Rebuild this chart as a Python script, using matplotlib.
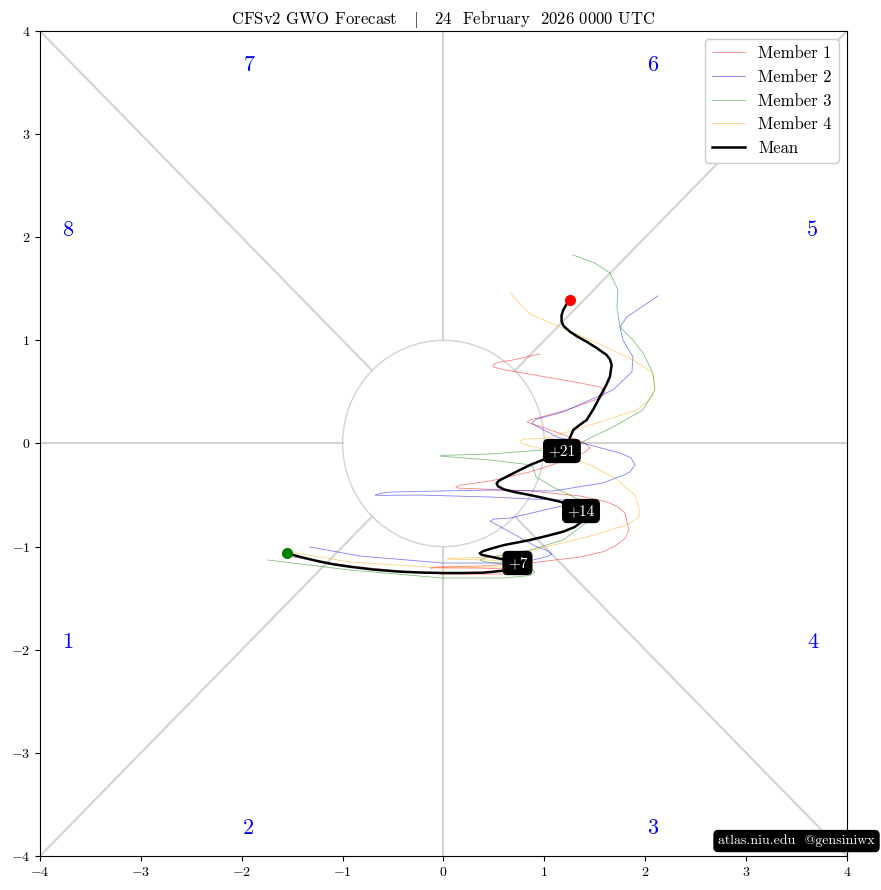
import matplotlib
matplotlib.use('Agg')
import matplotlib.pyplot as plt
import numpy as np

plt.rcParams['font.family'] = 'serif'
plt.rcParams['font.serif'] = ['cmr10']
plt.rcParams['mathtext.fontset'] = 'cm'
plt.rcParams['axes.formatter.use_mathtext'] = True

title = r'CFSv2 GWO Forecast   $|$   24  February  2026 0000 UTC'

# ensemble members (x, y)
m1_x = [-1.601, -1.25, -0.927, -0.45, -0.005, 0.610, 0.70, 0.738, 0.70, 0.362, -0.08, -0.124,
        -0.08, 0.362, 0.857, 1.353, 1.58, 1.700, 1.80, 1.838, 1.799, 1.72, 1.620, 1.353, 0.857,
        0.362, 0.15, 0.124, 0.16, 0.461, 0.857, 1.224, 1.40, 1.452, 1.40, 1.224, 1.006, 0.86,
        0.828, 0.86, 1.006, 1.224, 1.551, 1.59, 1.601, 1.56, 1.353, 0.956, 0.610, 0.50, 0.491,
        0.53, 0.689, 0.956]
m1_y = [-1.081, -1.14, -1.188, -1.235, -1.266, -1.266, -1.255, -1.237, -1.22, -1.208, -1.205, -1.208,
        -1.198, -1.188, -1.159, -1.101, -1.05, -0.994, -0.92, -0.839, -0.674, -0.61, -0.567, -0.509,
        -0.461, -0.441, -0.433, -0.422, -0.405, -0.364, -0.276, -0.160, -0.085, -0.044, 0.005,
        0.073, 0.150, 0.195, 0.209, 0.228, 0.267, 0.325, 0.441, 0.475, 0.509, 0.545, 0.587,
        0.655, 0.713, 0.74, 0.761, 0.785, 0.810, 0.868]

m2_x = [-1.323, -0.828, -0.005, 0.560, 0.887, 1.03, 1.075, 1.03, 0.907, 0.659, 0.49, 0.461, 0.50,
        0.659, 1.085, 1.26, 1.303, 1.25, 0.857, 0.461, -0.233, -0.64, -0.679, -0.62, -0.500,
        0.461, 1.085, 1.581, 1.80, 1.848, 1.898, 1.86, 1.749, 1.452, 1.125, 0.90, 0.877, 0.92,
        1.184, 1.680, 1.868, 1.878, 1.779, 1.749, 1.818, 2.126]
m2_y = [-1.004, -1.091, -1.159, -1.159, -1.130, -1.095, -1.072, -1.04, -0.994, -0.858, -0.768, -0.752,
        -0.733, -0.723, -0.626, -0.585, -0.567, -0.55, -0.538, -0.519, -0.500, -0.503, -0.500,
        -0.482, -0.470, -0.451, -0.461, -0.383, -0.30, -0.276, -0.209, -0.14, -0.092, -0.015,
        0.063, 0.18, 0.199, 0.235, 0.306, 0.519, 0.694, 0.839, 1.004, 1.130, 1.227, 1.431]

m3_x = [-1.739, -0.927, -0.005, 0.590, 0.86, 0.907, 0.86, 0.659, 0.40, 0.362, 0.42, 0.857, 1.184,
        1.452, 1.54, 1.551, 1.50, 1.353, 1.085, 0.917, 0.887, 0.80, 0.461, 0.0, -0.035, 0.0,
        0.461, 0.986, 1.353, 1.680, 1.977, 2.096, 2.076, 1.977, 1.878, 1.749, 1.719, 1.729,
        1.650, 1.50, 1.283]
m3_y = [-1.130, -1.227, -1.305, -1.305, -1.28, -1.246, -1.21, -1.178, -1.145, -1.130, -1.11, -1.033,
        -0.936, -0.742, -0.70, -0.664, -0.60, -0.548, -0.422, -0.325, -0.228, -0.20, -0.160,
        -0.125, -0.121, -0.115, -0.102, -0.063, 0.005, 0.160, 0.325, 0.519, 0.684, 0.878, 1.004,
        1.130, 1.324, 1.489, 1.654, 1.75, 1.828]

m4_x = [-1.519, -0.927, -0.005, 0.560, 0.68, 0.709, 0.66, 0.461, 0.07, 0.035, 0.08, 0.590, 0.927,
        1.422, 1.819, 1.93, 1.947, 1.898, 1.700, 1.452, 1.105, 0.857, 0.77, 0.758, 0.80, 1.026,
        1.521, 1.918, 2.07, 2.096, 2.076, 1.878, 1.611, 1.155, 0.857, 0.659]
m4_y = [-1.052, -1.149, -1.208, -1.198, -1.185, -1.169, -1.15, -1.130, -1.122, -1.120, -1.112,
        -1.101, -1.023, -0.907, -0.790, -0.72, -0.664, -0.500, -0.335, -0.209, -0.082, -0.024,
        0.005, 0.024, 0.042, 0.053, 0.199, 0.325, 0.45, 0.548, 0.684, 0.810, 0.936, 1.130, 1.255,
        1.460]

mean_x = [-1.548, -1.4, -1.25, -1.1, -0.927, -0.7, -0.431, -0.2, 0.0, 0.2, 0.391, 0.590, 0.68,
          0.73, 0.70, 0.62, 0.48, 0.38, 0.36, 0.39, 0.47, 0.6, 0.857, 1.03, 1.187, 1.3, 1.37,
          1.40, 1.363, 1.27, 1.155, 1.0, 0.857, 0.7, 0.6, 0.54, 0.527, 0.55, 0.626, 0.74, 0.857,
          1.023, 1.171, 1.23, 1.286, 1.35, 1.419, 1.49, 1.551, 1.61, 1.650, 1.667, 1.65, 1.617,
          1.52, 1.419, 1.33, 1.254, 1.19, 1.171, 1.17, 1.187, 1.22, 1.254]
mean_y = [-1.065, -1.105, -1.14, -1.17, -1.195, -1.222, -1.243, -1.252, -1.256, -1.256, -1.253,
          -1.234, -1.21, -1.18, -1.15, -1.13, -1.10, -1.08, -1.065, -1.045, -1.02, -0.985, -0.936,
          -0.895, -0.855, -0.81, -0.76, -0.71, -0.652, -0.605, -0.564, -0.53, -0.50, -0.47, -0.445,
          -0.415, -0.386, -0.36, -0.322, -0.265, -0.209, -0.144, -0.073, 0.0, 0.131, 0.18, 0.228,
          0.34, 0.454, 0.56, 0.648, 0.761, 0.815, 0.858, 0.925, 0.987, 1.035, 1.084, 1.14, 1.181,
          1.24, 1.295, 1.35, 1.392]

lead_labels = ['+7', '+14', '+21']
lead_x = [0.733, 1.363, 1.174]
lead_y = [-1.159, -0.655, -0.073]

phase_labels = ['1', '2', '3', '4', '5', '6', '7', '8']
phase_x = [-3.73, -1.93, 2.07, 3.66, 3.66, 2.07, -1.93, -3.73]
phase_y = [-1.93, -3.73, -3.73, -1.93, 2.07, 3.67, 3.67, 2.07]

members = [(m1_x, m1_y, 'red', 'Member 1'),
           (m2_x, m2_y, 'blue', 'Member 2'),
           (m3_x, m3_y, 'green', 'Member 3'),
           (m4_x, m4_y, 'orange', 'Member 4')]

fig = plt.figure(figsize=(8.81, 8.90), dpi=100)
ax = fig.add_axes([0.0454, 0.0382, 0.9160, 0.9270])

# phase-space background
gc = 'lightgray'
ax.plot([1, 4], [0, 0], color=gc, lw=1.5, zorder=1)
ax.plot([-4, -1], [0, 0], color=gc, lw=1.5, zorder=1)
ax.plot([0, 0], [1, 4], color=gc, lw=1.5, zorder=1)
ax.plot([0, 0], [-4, -1], color=gc, lw=1.5, zorder=1)
r = np.sqrt(0.5)
for sx, sy in [(1, 1), (1, -1), (-1, 1), (-1, -1)]:
    ax.plot([sx * r, sx * 4], [sy * r, sy * 4], color=gc, lw=1.5, zorder=1)
ax.add_patch(plt.Circle((0, 0), 1, fill=False, color=gc, lw=1, zorder=1))

for lab, px, py in zip(phase_labels, phase_x, phase_y):
    ax.text(px, py, lab, color='blue', fontsize=16, ha='center', va='center')

for xs, ys, col, name in members:
    ax.plot(xs, ys, color=col, lw=0.6, alpha=0.5, label=name, zorder=2,
            solid_joinstyle='round')

ax.plot(mean_x, mean_y, color='black', lw=1.8, label='Mean', zorder=3,
        solid_joinstyle='round')
ax.plot(mean_x[0], mean_y[0], 'o', color='green', markersize=7, zorder=4)
ax.plot(mean_x[-1], mean_y[-1], 'o', color='red', markersize=7, zorder=4)

for lab, lx, ly in zip(lead_labels, lead_x, lead_y):
    ax.text(lx, ly, lab, color='white', fontsize=11, ha='center', va='center', zorder=5,
            bbox=dict(boxstyle='round,pad=0.3', fc='black', ec='black'))

ax.set_xlim(-4, 4)
ax.set_ylim(-4, 4)
ax.set_xticks(range(-4, 5))
ax.set_yticks(range(-4, 5))
ax.tick_params(labelsize=10)
ax.set_title(title, fontsize=12, pad=5)
ax.legend(loc='upper right', fontsize=12, framealpha=1)

fig.text(0.993, 0.055, 'atlas.niu.edu  @gensiniwx', color='white', fontsize=10,
         ha='right', va='center',
         bbox=dict(boxstyle='round,pad=0.3', fc='black', ec='black'))

fig.savefig('out.png', dpi=100)
